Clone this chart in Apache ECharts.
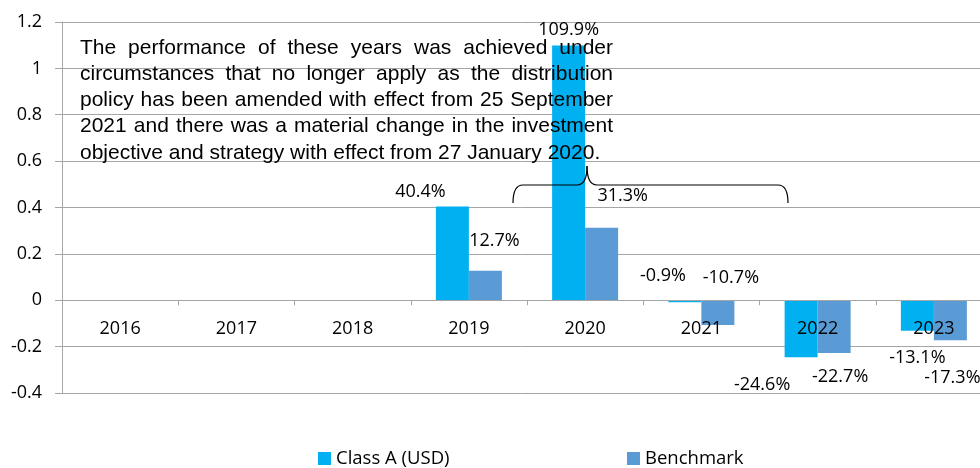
<!DOCTYPE html>
<html>
<head>
<meta charset="utf-8">
<script src="https://cdn.jsdelivr.net/npm/echarts@6/dist/echarts.min.js"></script>
<style>
html, body { margin: 0; padding: 0; background: #fff; }
#main { width: 980px; height: 468px; }
</style>
</head>
<body>
<div id="main"></div>
<script>
// data
const years = ['2016', '2017', '2018', '2019', '2020', '2021', '2022', '2023']
const classA = [null, null, null, 0.404, 1.099, -0.009, -0.246, -0.131]
const benchmark = [null, null, null, 0.127, 0.313, -0.107, -0.227, -0.173]
const yTicks = { min: -0.4, max: 1.2, interval: 0.2 }

const noteLines = [
    'The performance of these years was achieved under',
    'circumstances that no longer apply as the distribution',
    'policy has been amended with effect from 25 September',
    '2021 and there was a material change in the investment',
    'objective and strategy with effect from 27 January 2020.'
]

// label nudges (px, from the bar centre) so labels sit where the original put them
const offsetA = [null, null, null, [-32, -62], [0, -143], [-22, -25], [-39, 56], [0, 42]]
const offsetB = [null, null, null, [9, -45], [21, -68], [13, -35], [6, 50], [2, 58]]

const blue = '#00B0F0'
const steel = '#5B9BD5'
const gridGrey = '#A6A6A6'
const labelFont = '"Open Sans", sans-serif'
const noteFont = '"Liberation Sans", Arial, sans-serif'

const gridTop = 22
const gridHeight = 371
// category axis sits on the zero line
const zeroShift = -gridHeight * (0 - yTicks.min) / (yTicks.max - yTicks.min)

const chart = echarts.init(document.getElementById('main'))

const toItems = (vals, offs) => vals.map((v, i) => {
    if (v === null) return null
    return {
        value: v,
        label: { offset: offs[i] }
    }
})

const pctLabel = {
    show: true,
    position: 'inside',
    color: '#000',
    fontFamily: labelFont,
    fontSize: 18,
    formatter: (p) => (p.value * 100).toFixed(1) + '%'
}

// justified note text, one text element per word
const buildNote = () => {
    const left = 80, right = 613, top = 48, lineH = 26.2
    const fontSize = 21
    const font = fontSize + 'px ' + noteFont
    const ctx = document.createElement('canvas').getContext('2d')
    ctx.font = font
    const els = []
    noteLines.forEach((line, li) => {
        const y = top + li * lineH
        const words = line.split(' ')
        const last = li === noteLines.length - 1
        if (last) {
            els.push({
                type: 'text', x: left, y: y, z: 100,
                style: { text: line, font: font, fill: '#000', verticalAlign: 'middle' }
            })
            return
        }
        const widths = words.map(w => ctx.measureText(w).width)
        const total = widths.reduce((a, b) => a + b, 0)
        const gap = (right - left - total) / (words.length - 1)
        let x = left
        words.forEach((w, wi) => {
            els.push({
                type: 'text', x: x, y: y, z: 100,
                style: { text: w, font: font, fill: '#000', verticalAlign: 'middle' }
            })
            x += widths[wi] + gap
        })
    })
    return els
}

// curly brace under the note
const brace = () => {
    const st = { stroke: '#000', lineWidth: 1.2, fill: 'none' }
    const curve = (x1, y1, cx, cy, x2, y2) => ({
        type: 'bezierCurve', z: 100,
        shape: { x1: x1, y1: y1, cpx1: cx, cpy1: cy, x2: x2, y2: y2 },
        style: st
    })
    const line = (x1, y1, x2, y2) => ({
        type: 'line', z: 100,
        shape: { x1: x1, y1: y1, x2: x2, y2: y2 },
        style: st
    })
    return [
        curve(513, 203, 513, 185, 523, 185),
        line(523, 185, 577, 185),
        curve(577, 185, 587, 185, 587, 166),
        curve(587, 166, 587, 185, 597, 185),
        line(597, 185, 778, 185),
        curve(778, 185, 788, 185, 788, 203)
    ]
}

const option = {
    animation: false,
    grid: {
        left: 62, top: gridTop, width: 930, height: gridHeight,
        containLabel: false, outerBoundsMode: 'none'
    },
    legend: [
        {
            data: ['Class A (USD)'], left: 313, top: 444,
            itemWidth: 13, itemHeight: 13, icon: 'rect', itemGap: 4,
            textStyle: { fontFamily: labelFont, fontSize: 18.5, color: '#000' }
        },
        {
            data: ['Benchmark'], left: 622, top: 444,
            itemWidth: 13, itemHeight: 13, icon: 'rect',
            textStyle: { fontFamily: labelFont, fontSize: 18.5, color: '#000' }
        }
    ],
    xAxis: {
        type: 'category',
        data: years,
        z: 3,
        position: 'bottom',
        offset: zeroShift,
        axisLine: { onZero: false, lineStyle: { color: gridGrey, width: 1 } },
        axisTick: { show: true, length: 5, lineStyle: { color: gridGrey } },
        axisLabel: { margin: 20, color: '#000', fontFamily: labelFont, fontSize: 18 }
    },
    yAxis: {
        type: 'value',
        min: yTicks.min,
        max: yTicks.max,
        interval: yTicks.interval,
        axisLine: { show: true, lineStyle: { color: gridGrey, width: 1 } },
        axisTick: { show: true, length: 7, lineStyle: { color: gridGrey } },
        axisLabel: { margin: 20, color: '#000', fontFamily: labelFont, fontSize: 18 },
        splitLine: { show: true, lineStyle: { color: gridGrey, width: 1 } }
    },
    series: [
        {
            name: 'Class A (USD)',
            type: 'bar',
            barWidth: 33,
            barGap: '0%',
            itemStyle: { color: blue },
            label: pctLabel,
            data: toItems(classA, offsetA)
        },
        {
            name: 'Benchmark',
            type: 'bar',
            barWidth: 33,
            barGap: '0%',
            itemStyle: { color: steel },
            label: pctLabel,
            data: toItems(benchmark, offsetB)
        }
    ],
    graphic: [...buildNote(), ...brace()]
}

chart.setOption(option)
</script>
</body>
</html>
